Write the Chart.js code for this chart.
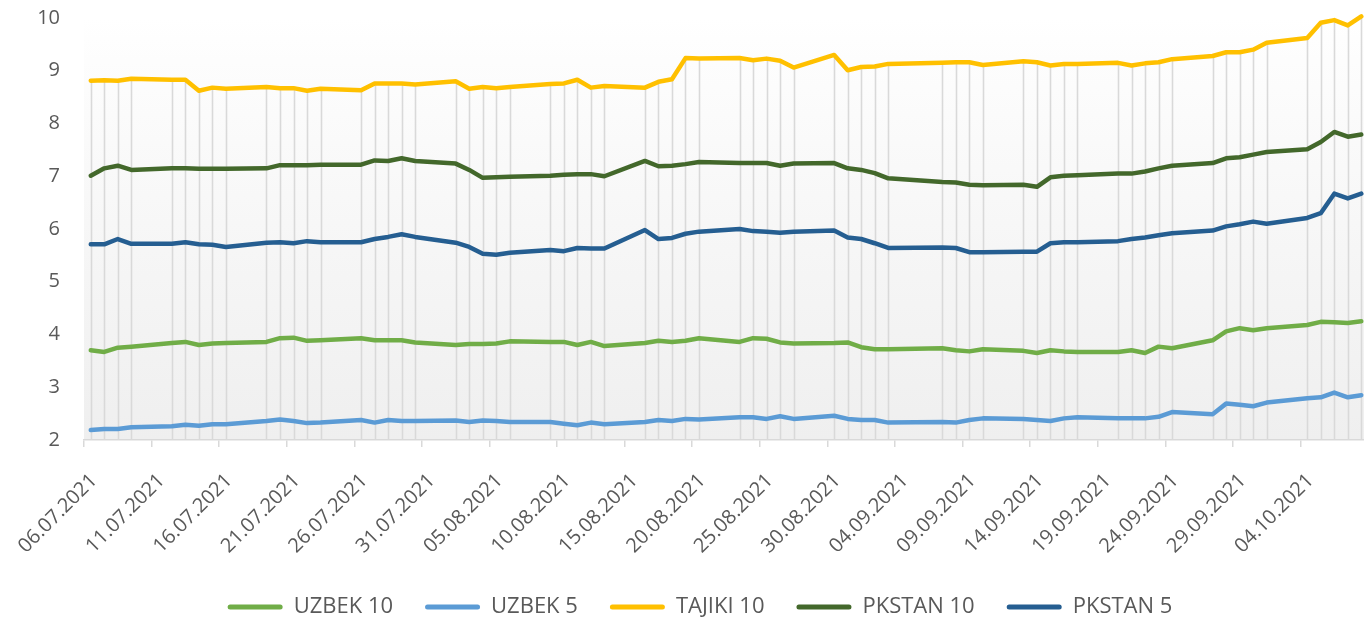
<!DOCTYPE html>
<html>
<head>
<meta charset="utf-8">
<script src="https://cdn.jsdelivr.net/npm/chart.js@4.4.1/dist/chart.umd.min.js"></script>
<style>
  html, body { margin: 0; padding: 0; background: #fff; }
</style>
</head>
<body>
<canvas id="chart" width="1364" height="619"></canvas>
<script>
// trading days (no weekends, no 06.09)
const dates = [
  '06.07.2021','07.07.2021','08.07.2021','09.07.2021',
  '12.07.2021','13.07.2021','14.07.2021','15.07.2021','16.07.2021',
  '19.07.2021','20.07.2021','21.07.2021','22.07.2021','23.07.2021',
  '26.07.2021','27.07.2021','28.07.2021','29.07.2021','30.07.2021',
  '02.08.2021','03.08.2021','04.08.2021','05.08.2021','06.08.2021',
  '09.08.2021','10.08.2021','11.08.2021','12.08.2021','13.08.2021',
  '16.08.2021','17.08.2021','18.08.2021','19.08.2021','20.08.2021',
  '23.08.2021','24.08.2021','25.08.2021','26.08.2021','27.08.2021',
  '30.08.2021','31.08.2021','01.09.2021','02.09.2021','03.09.2021',
  '07.09.2021','08.09.2021','09.09.2021','10.09.2021',
  '13.09.2021','14.09.2021','15.09.2021','16.09.2021','17.09.2021',
  '20.09.2021','21.09.2021','22.09.2021','23.09.2021','24.09.2021',
  '27.09.2021','28.09.2021','29.09.2021','30.09.2021','01.10.2021',
  '04.10.2021','05.10.2021','06.10.2021','07.10.2021','08.10.2021'
];

const tickLabels = [
  '06.07.2021','11.07.2021','16.07.2021','21.07.2021','26.07.2021','31.07.2021',
  '05.08.2021','10.08.2021','15.08.2021','20.08.2021','25.08.2021','30.08.2021',
  '04.09.2021','09.09.2021','14.09.2021','19.09.2021','24.09.2021','29.09.2021',
  '04.10.2021'
];

const uzbek10 = [3.70, 3.67, 3.75, 3.77, 3.84, 3.86, 3.80, 3.83, 3.84, 3.86,
  3.93, 3.94, 3.88, 3.89, 3.93, 3.89, 3.89, 3.89, 3.85, 3.80,
  3.82, 3.82, 3.83, 3.87, 3.86, 3.86, 3.80, 3.86, 3.78, 3.84,
  3.88, 3.86, 3.88, 3.93, 3.86, 3.93, 3.92, 3.85, 3.83, 3.84,
  3.85, 3.76, 3.72, 3.72, 3.74, 3.70, 3.68, 3.72, 3.69, 3.65,
  3.70, 3.68, 3.67, 3.67, 3.70, 3.65, 3.77, 3.74, 3.89, 4.06,
  4.12, 4.08, 4.12, 4.18, 4.24, 4.23, 4.22, 4.25];

const uzbek5 = [2.19, 2.21, 2.21, 2.24, 2.26, 2.29, 2.27, 2.30, 2.30, 2.36,
  2.39, 2.36, 2.32, 2.33, 2.38, 2.33, 2.38, 2.36, 2.36, 2.37,
  2.34, 2.37, 2.36, 2.34, 2.34, 2.31, 2.28, 2.33, 2.30, 2.34,
  2.38, 2.36, 2.40, 2.39, 2.43, 2.43, 2.40, 2.45, 2.40, 2.46,
  2.40, 2.38, 2.38, 2.33, 2.34, 2.33, 2.38, 2.41, 2.40, 2.38,
  2.36, 2.41, 2.43, 2.41, 2.41, 2.41, 2.44, 2.53, 2.49, 2.69,
  2.67, 2.64, 2.71, 2.79, 2.81, 2.90, 2.81, 2.85];

const tajiki10 = [8.81, 8.82, 8.81, 8.85, 8.83, 8.83, 8.62, 8.68, 8.66, 8.69,
  8.67, 8.67, 8.62, 8.66, 8.63, 8.76, 8.76, 8.76, 8.74, 8.80,
  8.66, 8.69, 8.67, 8.69, 8.75, 8.76, 8.83, 8.68, 8.71, 8.68,
  8.79, 8.84, 9.24, 9.23, 9.24, 9.20, 9.23, 9.19, 9.06, 9.30,
  9.01, 9.07, 9.08, 9.13, 9.15, 9.16, 9.16, 9.11, 9.18, 9.16,
  9.10, 9.13, 9.13, 9.15, 9.10, 9.14, 9.16, 9.22, 9.28, 9.35,
  9.35, 9.40, 9.53, 9.62, 9.91, 9.96, 9.86, 10.03];

const pkstan10 = [7.01, 7.15, 7.20, 7.12, 7.15, 7.15, 7.14, 7.14, 7.14, 7.15,
  7.21, 7.21, 7.21, 7.22, 7.22, 7.30, 7.29, 7.34, 7.29, 7.24,
  7.12, 6.97, 6.98, 6.99, 7.01, 7.03, 7.04, 7.04, 7.00, 7.29,
  7.19, 7.20, 7.23, 7.27, 7.25, 7.25, 7.25, 7.20, 7.24, 7.25,
  7.15, 7.12, 7.06, 6.96, 6.89, 6.88, 6.84, 6.83, 6.84, 6.80,
  6.98, 7.01, 7.02, 7.05, 7.05, 7.09, 7.15, 7.20, 7.25, 7.34,
  7.36, 7.41, 7.46, 7.51, 7.65, 7.84, 7.75, 7.79];

const pkstan5 = [5.71, 5.71, 5.81, 5.72, 5.72, 5.75, 5.71, 5.70, 5.66, 5.74,
  5.75, 5.73, 5.77, 5.75, 5.75, 5.81, 5.85, 5.90, 5.85, 5.74,
  5.66, 5.53, 5.51, 5.55, 5.60, 5.58, 5.64, 5.63, 5.63, 5.98,
  5.81, 5.83, 5.91, 5.95, 6.00, 5.96, 5.95, 5.93, 5.95, 5.97,
  5.84, 5.81, 5.73, 5.64, 5.65, 5.64, 5.56, 5.56, 5.57, 5.57,
  5.73, 5.75, 5.75, 5.77, 5.81, 5.84, 5.88, 5.92, 5.97, 6.05,
  6.09, 6.14, 6.10, 6.21, 6.30, 6.67, 6.58, 6.67];

const seriesNames = ['UZBEK 10', 'UZBEK 5', 'TAJIKI 10', 'PKSTAN 10', 'PKSTAN 5'];
const seriesColors = ['#70ad47', '#5b9bd5', '#ffc000', '#43682b', '#255e91'];
const seriesValues = [uzbek10, uzbek5, tajiki10, pkstan10, pkstan5];

// days since first date; a day is a slot, the point sits in its middle
function dayIndex(s) {
  const [d, m, y] = s.split('.').map(Number);
  return (Date.UTC(y, m - 1, d) - Date.UTC(2021, 6, 6)) / 86400000;
}

const xs = dates.map(d => dayIndex(d) + 0.5);

const datasets = seriesNames.map((name, i) => ({
  label: name,
  data: seriesValues[i].map((v, j) => ({ x: xs[j], y: v })),
  borderColor: seriesColors[i],
  backgroundColor: seriesColors[i],
  borderWidth: 4.5,
  pointRadius: 0,
  tension: 0,
  borderJoinStyle: 'round',
  borderCapStyle: 'round',
  clip: false
}));

// gradient plot area
const plotBg = {
  id: 'plotBg',
  beforeDraw(chart) {
    const { ctx, chartArea: a } = chart;
    const g = ctx.createLinearGradient(0, a.top, 0, a.bottom);
    g.addColorStop(0, '#ffffff');
    g.addColorStop(0.1, '#fdfdfd');
    g.addColorStop(1, '#efefef');
    ctx.save();
    ctx.fillStyle = g;
    ctx.fillRect(a.left, a.top, a.right - a.left, a.bottom - a.top);
    ctx.restore();
  }
};

// drop lines from the highest series down to the axis
const dropLines = {
  id: 'dropLines',
  beforeDatasetsDraw(chart) {
    const { ctx, chartArea: a, scales: { x, y } } = chart;
    ctx.save();
    ctx.strokeStyle = '#d9d9d9';
    ctx.lineWidth = 1.6;
    xs.forEach((xv, j) => {
      const top = Math.max(...seriesValues.map(s => s[j]));
      const px = Math.round(x.getPixelForValue(xv)) + 0.5;
      ctx.beginPath();
      ctx.moveTo(px, y.getPixelForValue(top));
      ctx.lineTo(px, a.bottom);
      ctx.stroke();
    });
    ctx.restore();
  }
};

const tickFont = { family: "'Open Sans', sans-serif", size: 20 };
const legendFont = { family: "'Open Sans', sans-serif", size: 22 };

new Chart(document.getElementById('chart'), {
  type: 'line',
  data: { datasets },
  plugins: [plotBg, dropLines],
  options: {
    responsive: false,
    animation: false,
    layout: { padding: { top: 18, left: 36, right: 0, bottom: 0 } },
    scales: {
      x: {
        type: 'linear',
        min: 0,
        max: 94.7,
        afterBuildTicks: axis => { axis.ticks = tickLabels.map(l => ({ value: dayIndex(l) })); },
        afterFit: axis => {
          axis.height = 124;
          axis.paddingLeft = 0;
          axis.paddingRight = 0;
        },
        ticks: {
          minRotation: 45,
          maxRotation: 45,
          padding: 22,
          labelOffset: 10,
          color: '#595959',
          font: tickFont,
          callback: (value, index) => tickLabels[index]
        },
        grid: { drawOnChartArea: false, drawTicks: true, tickLength: 7, color: '#d9d9d9', lineWidth: 1.5 },
        border: { display: true, color: '#d9d9d9', width: 1.5 }
      },
      y: {
        min: 2,
        max: 10,
        afterFit: axis => {
          axis.width = 48;
          axis.paddingTop = 0;
          axis.paddingBottom = 0;
        },
        ticks: { stepSize: 1, padding: 24, color: '#595959', font: tickFont },
        grid: { display: false, drawTicks: false },
        border: { display: false }
      }
    },
    plugins: {
      tooltip: { enabled: false },
      legend: {
        position: 'bottom',
        maxHeight: 55,
        labels: {
          boxWidth: 55,
          boxHeight: 5,
          padding: 32,
          color: '#595959',
          font: legendFont,
          generateLabels: chart => Chart.defaults.plugins.legend.labels.generateLabels(chart)
            .map(l => ({ ...l, fillStyle: l.strokeStyle, lineWidth: 0, borderRadius: 2.5 }))
        }
      }
    }
  }
});
</script>
</body>
</html>
